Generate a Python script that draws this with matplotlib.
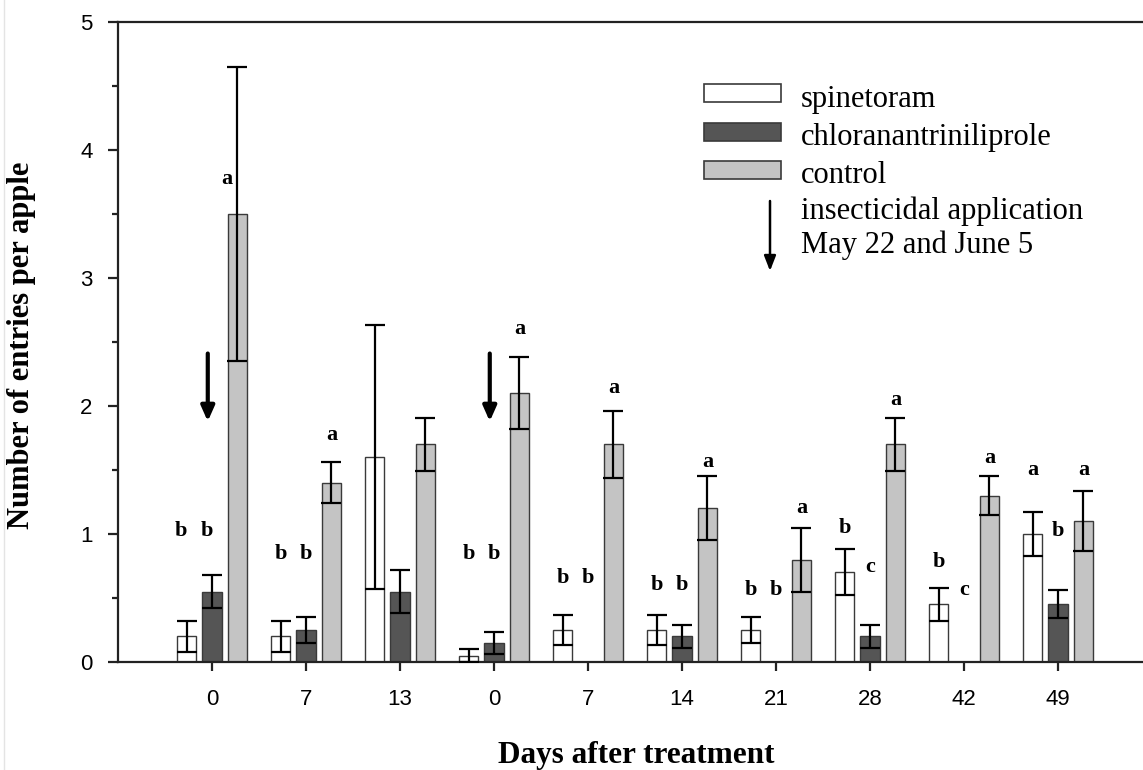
import numpy as np
import matplotlib
matplotlib.use("Agg")
import matplotlib.pyplot as plt
from matplotlib.patches import Rectangle
from matplotlib.lines import Line2D

# ---------------- data ----------------
day_labels = ["0", "7", "13", "0", "7", "14", "21", "28", "42", "49"]
series_names = ["spinetoram", "chloranantriniliprole", "control"]

spinetoram = [0.20, 0.20, 1.60, 0.05, 0.25, 0.25, 0.25, 0.70, 0.45, 1.00]
spinetoram_err = [0.12, 0.12, 1.03, 0.05, 0.12, 0.12, 0.10, 0.18, 0.13, 0.17]

chlorant = [0.55, 0.25, 0.55, 0.15, 0.0, 0.20, 0.0, 0.20, 0.0, 0.45]
chlorant_err = [0.13, 0.10, 0.17, 0.085, 0.0, 0.09, 0.0, 0.09, 0.0, 0.11]

control = [3.50, 1.40, 1.70, 2.10, 1.70, 1.20, 0.80, 1.70, 1.30, 1.10]
control_err = [1.15, 0.16, 0.21, 0.28, 0.26, 0.25, 0.25, 0.21, 0.15, 0.235]

# significance letters: (group index, series index, letter, label height)
letters = [
    (0, 0, "b", 1.02), (0, 1, "b", 1.02), (0, 2, "a", 3.77),
    (1, 0, "b", 0.84), (1, 1, "b", 0.84), (1, 2, "a", 1.77),
    (3, 0, "b", 0.84), (3, 1, "b", 0.84), (3, 2, "a", 2.60),
    (4, 0, "b", 0.66), (4, 1, "b", 0.66), (4, 2, "a", 2.14),
    (5, 0, "b", 0.60), (5, 1, "b", 0.60), (5, 2, "a", 1.56),
    (6, 0, "b", 0.56), (6, 1, "b", 0.56), (6, 2, "a", 1.20),
    (7, 0, "b", 1.05), (7, 1, "c", 0.74), (7, 2, "a", 2.05),
    (8, 0, "b", 0.78), (8, 1, "c", 0.56), (8, 2, "a", 1.59),
    (9, 0, "a", 1.50), (9, 1, "b", 1.02), (9, 2, "a", 1.50),
]

# insecticide application arrows (group index, arrow top, arrow tip)
applications = [(0, 2.41, 1.88), (3, 2.41, 1.88)]

# ---------------- style ----------------
W, H = 1143, 770
fig = plt.figure(figsize=(W / 100, H / 100), dpi=100)
serif = "Liberation Serif"
sans = "Liberation Sans"

ax_left = 118 / W
ax_bottom = 1 - 662 / H
ax_top = 1 - 22 / H
ax = fig.add_axes([ax_left, ax_bottom, 1 - ax_left, ax_top - ax_bottom])

x = np.arange(1, len(day_labels) + 1)
offset = 0.271
width = 0.207
face = ["white", "#555555", "#c4c4c4"]
edge = "#3a3a3a"
vals = [spinetoram, chlorant, control]
errs = [spinetoram_err, chlorant_err, control_err]

for k in range(3):
    xs = x + (k - 1) * offset
    v = np.array(vals[k])
    e = np.array(errs[k])
    show = v > 0
    ax.bar(xs[show], v[show], width=width, color=face[k], edgecolor=edge,
           linewidth=1.0, zorder=2)
    m = e > 0
    ax.errorbar(xs[m], v[m], yerr=e[m], fmt="none", ecolor="black",
                elinewidth=1.6, capsize=7, capthick=1.6, zorder=3)

for g, k, lt, yy in letters:
    xx = x[g] + (k - 1) * offset
    if g == 0 and k == 2:
        xx -= 0.11
    elif g == 0:
        xx -= 0.055
    ax.text(xx, yy, lt, ha="center", va="center", fontsize=16,
            fontweight="bold", family=serif, zorder=4)

for g, ytop, ytip in applications:
    xa = x[g] - 0.045
    ax.annotate("", xy=(xa, ytip), xytext=(xa, ytop),
                arrowprops=dict(arrowstyle="-|>,head_length=0.9,head_width=0.4",
                                lw=3.0, color="black", shrinkA=0, shrinkB=0,
                                mutation_scale=10), zorder=4)

ax.set_xlim(0, (W - 118) / 94)
ax.set_ylim(0, 5)
ax.set_xticks(x)
ax.set_xticklabels(day_labels, family=sans, fontsize=16)
ax.set_yticks(np.arange(0, 6, 1))
ax.set_yticklabels([str(i) for i in range(6)], family=sans, fontsize=16)
ax.set_yticks(np.arange(0.5, 5, 1), minor=True)
ax.tick_params(axis="y", which="major", direction="out", length=7.2,
               width=1.6, color="#222222", pad=11)
ax.tick_params(axis="x", which="major", direction="out", length=6.5,
               width=1.6, color="#222222", pad=13)
ax.tick_params(axis="y", which="minor", direction="out", length=4.3, width=1.6,
               color="#222222")
for s in ["left", "top", "bottom"]:
    ax.spines[s].set_linewidth(1.6)
    ax.spines[s].set_color("#222222")
ax.spines["right"].set_visible(False)

fig.text(22 / W, 1 - 345 / H, "Number of entries per apple", rotation=90,
         ha="center", va="center", fontsize=22, fontweight="bold", family=serif)
fig.text(636 / W, 1 - 755 / H, "Days after treatment",
         ha="center", va="center", fontsize=22.5, fontweight="bold", family=serif)

# ---------------- legend (manual) ----------------
def fx(px):
    return px / W

def fy(py):
    return 1 - py / H

box_rows = [93.3, 131.7, 170]
for k, yc in enumerate(box_rows):
    r = Rectangle((fx(704), fy(yc + 9)), fx(781) - fx(704), fy(yc - 9) - fy(yc + 9),
                  transform=fig.transFigure, facecolor=face[k], edgecolor=edge,
                  linewidth=1.2)
    fig.patches.append(r)
text_baselines = [106.7, 145, 183.3, 219.3, 253.3]
legend_texts = series_names + ["insecticidal application", "May 22 and June 5"]
for t, yb in zip(legend_texts, text_baselines):
    fig.text(fx(801), fy(yb), t, ha="left", va="baseline", fontsize=22, family=serif)

ax.annotate("", xy=(fx(770), fy(271)), xytext=(fx(770), fy(201)),
            xycoords="figure fraction", textcoords="figure fraction",
            arrowprops=dict(arrowstyle="-|>,head_length=0.9,head_width=0.35",
                            lw=1.8, color="black", shrinkA=0, shrinkB=0,
                            mutation_scale=10))

# faint line at the very left edge
fig.add_artist(Line2D([fx(4), fx(4)], [0, 1], transform=fig.transFigure,
                      color="#e4e4e4", linewidth=1.0))

fig.savefig("out.png", dpi=100)
